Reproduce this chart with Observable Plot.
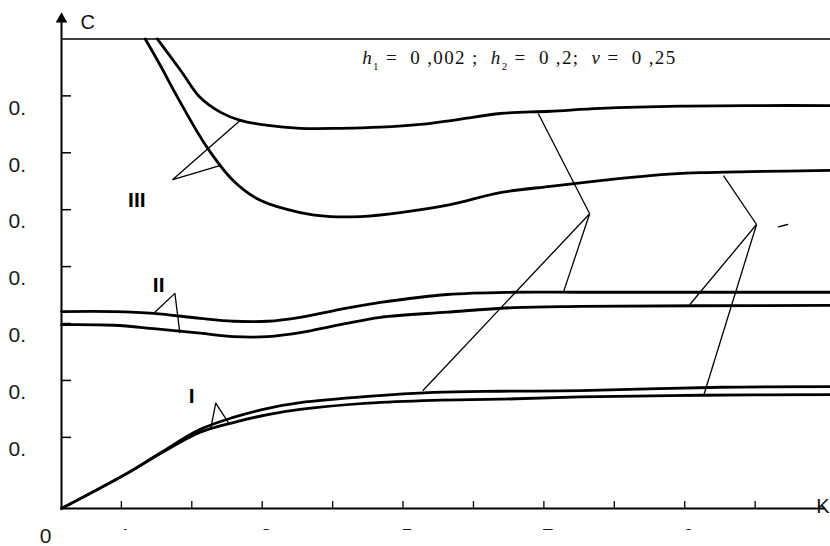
<!DOCTYPE html>
<html>
<head>
<meta charset="utf-8">
<script src="https://cdn.jsdelivr.net/npm/d3@7"></script>
<script src="https://cdn.jsdelivr.net/npm/@observablehq/plot@0.6"></script>
<style>
  html, body { margin: 0; padding: 0; background: #fff; }
</style>
</head>
<body>
<div id="chart"></div>
<script>
// Axis ticks and labels
const xTicks = [1, 2, 3, 4, 5, 6, 7, 8, 9, 10];
const xTickLabels = [1, 3, 5, 7, 9];
const yTicks = [1, 2, 3, 4, 5, 6, 7];
const yTickLabel = "0.";

// Dispersion curves C(K), pairs [K, C]
const curveIIIa = [[1.51, 8.0], [1.84, 7.45], [2.12, 6.97], [2.41, 6.71], [2.69, 6.57], [3.08, 6.48],
  [3.54, 6.43], [4.11, 6.43], [4.68, 6.45], [5.25, 6.50], [5.82, 6.59], [6.38, 6.69], [7.09, 6.73],
  [7.80, 6.78], [8.94, 6.82], [10.08, 6.83], [11.07, 6.83]];
const curveIIIb = [[1.34, 8.0], [1.56, 7.52], [1.80, 6.97], [2.22, 6.09], [2.59, 5.51], [2.98, 5.16],
  [3.54, 4.95], [3.97, 4.88], [4.40, 4.88], [4.96, 4.95], [5.67, 5.09], [6.38, 5.30], [7.09, 5.41],
  [7.80, 5.51], [8.51, 5.60], [9.22, 5.65], [9.93, 5.67], [11.07, 5.69]];
const curveIIa = [[0.15, 3.21], [0.89, 3.21], [1.46, 3.18], [2.12, 3.09], [2.59, 3.04], [3.08, 3.04],
  [3.54, 3.11], [4.11, 3.25], [4.68, 3.37], [5.63, 3.51], [6.57, 3.55], [7.52, 3.55], [11.07, 3.55]];
const curveIIb = [[0.15, 2.98], [0.89, 2.97], [1.46, 2.91], [2.12, 2.83], [2.59, 2.77], [3.08, 2.77],
  [3.54, 2.84], [4.11, 2.98], [4.68, 3.11], [5.63, 3.20], [6.57, 3.28], [7.52, 3.30], [11.07, 3.32]];
const curveIa = [[0.15, -0.25], [1.10, 0.38], [1.56, 0.73], [2.12, 1.14], [2.59, 1.35], [3.08, 1.51],
  [3.54, 1.61], [4.50, 1.72], [5.43, 1.79], [6.38, 1.81], [7.52, 1.82], [9.51, 1.88], [11.07, 1.89]];
const curveIb = [[0.15, -0.25], [1.10, 0.38], [1.56, 0.72], [2.12, 1.09], [2.59, 1.26], [3.08, 1.40],
  [3.54, 1.49], [4.50, 1.60], [5.43, 1.65], [6.38, 1.67], [7.52, 1.71], [9.22, 1.74], [11.07, 1.75]];

// Leader lines from the group labels to their curve pairs
const leaderIII = [[2.69, 6.57], [1.73, 5.53], [2.41, 5.78]];
const leaderII = [[1.46, 3.18], [1.76, 3.53], [1.83, 2.84]];
const leaderI = [[2.27, 1.16], [2.34, 1.60], [2.52, 1.26]];

// Leader fans on the right: one hub for the upper curve of each pair, one for the lower
const hubUpper = [7.65, 4.93];
const hubUpperEnds = [[6.92, 6.69], [7.28, 3.56], [5.28, 1.82]];
const hubLower = [10.02, 4.74];
const hubLowerEnds = [[9.55, 5.60], [9.07, 3.33], [9.27, 1.74]];
const strayDash = [[10.33, 4.70], [10.46, 4.74]];

const groupLabels = [
  {text: "III", k: 1.22, c: 5.16},
  {text: "II", k: 1.53, c: 3.67},
  {text: "I", k: 2.0, c: 1.73}
];

const noteText = "h1 = 0,002 ; h2 = 0,2; v = 0,25";

const x0 = 0.15, x1 = 11.07, yMin = -0.25, yMax = 8.5, cTop = 8;
const W = 830, H = 546, mL = 61, mR = 0, mT = 10, mB = 38;
const pxPerY = (H - mB - mT) / (yMax - yMin);
const pxPerX = (W - mL - mR) / (x1 - x0);

const curveStyle = {x: d => d[0], y: d => d[1], stroke: "#000", strokeWidth: 2.8, curve: "catmull-rom"};
const leaderStyle = {x: d => d[0], y: d => d[1], stroke: "#000", strokeWidth: 1.3};
const labelFont = "Liberation Sans, Arial, sans-serif";

const chart = Plot.plot({
  width: W,
  height: H,
  marginLeft: mL,
  marginRight: mR,
  marginTop: mT,
  marginBottom: mB,
  x: {domain: [x0, x1], axis: null},
  y: {domain: [yMin, yMax], axis: null},
  style: {background: "#fff", fontFamily: labelFont, overflow: "hidden"},
  marks: [
    // frame: top boundary and axes
    Plot.ruleY([cTop], {x1: x0, x2: x1, stroke: "#000", strokeWidth: 1.5}),
    Plot.ruleY([yMin], {x1: x0, x2: 11.0, stroke: "#000", strokeWidth: 2}),
    Plot.ruleX([x0], {y1: yMin, y2: 8.35, stroke: "#000", strokeWidth: 2}),
    Plot.dot([[x0, 8.35]], {x: d => d[0], y: d => d[1], symbol: "triangle", r: 4.3, fill: "#000", stroke: "none"}),
    Plot.ruleX(xTicks, {y1: yMin, y2: yMin + 7 / pxPerY, stroke: "#000", strokeWidth: 1.3}),
    Plot.ruleY(yTicks, {x1: x0, x2: x0 + 10 / pxPerX, stroke: "#000", strokeWidth: 1.5}),

    // tick labels
    Plot.text(yTicks, {x: x0, y: d => d, text: () => yTickLabel, textAnchor: "start", dx: -53, dy: 12,
      fontSize: 21, fill: "#1a1a1a"}),
    Plot.text(["0"], {x: x0, y: yMin, text: d => d, dx: -16, dy: 27.5, fontSize: 21, fill: "#1a1a1a"}),
    Plot.text(xTickLabels, {x: d => d, y: yMin, text: d => String(d), dx: 4, dy: 27.5, fontSize: 21,
      fill: "#1a1a1a"}),

    // axis names
    Plot.text(["C"], {x: 0.42, y: 8.28, text: d => d, textAnchor: "start", fontSize: 20, fill: "#111"}),
    Plot.text(["K"], {x: x1, y: yMin, text: d => d, textAnchor: "end", dx: -1, dy: -2, fontSize: 20, fill: "#111"}),

    // parameter note
    Plot.text([noteText], {x: 4.42, y: 7.66, text: d => d, textAnchor: "start",
      fontFamily: "Liberation Serif, Times New Roman, serif", fontSize: 19, fill: "#111"}),

    // curves
    Plot.line(curveIIIa, curveStyle),
    Plot.line(curveIIIb, curveStyle),
    Plot.line(curveIIa, curveStyle),
    Plot.line(curveIIb, curveStyle),
    Plot.line(curveIa, curveStyle),
    Plot.line(curveIb, curveStyle),

    // leaders
    Plot.line(leaderIII, leaderStyle),
    Plot.line(leaderII, leaderStyle),
    Plot.line(leaderI, leaderStyle),
    Plot.link(hubUpperEnds, {x1: hubUpper[0], y1: hubUpper[1], x2: d => d[0], y2: d => d[1], stroke: "#000", strokeWidth: 1.3}),
    Plot.link(hubLowerEnds, {x1: hubLower[0], y1: hubLower[1], x2: d => d[0], y2: d => d[1], stroke: "#000", strokeWidth: 1.3}),
    Plot.line(strayDash, leaderStyle),

    // group labels
    Plot.text(groupLabels, {x: "k", y: "c", text: "text", fontSize: 21, fontWeight: "bold", fill: "#000"})
  ]
});

document.getElementById("chart").appendChild(chart);

const svg = d3.select(chart);

// Odd K labels only show their top edge: gather them in a clipped group
const clipId = "klabel-clip";
svg.append("defs").append("clipPath").attr("id", clipId)
  .append("rect").attr("x", 0).attr("y", 0).attr("width", W).attr("height", H - mB + 22);
const clipped = svg.append("g").attr("clip-path", `url(#${clipId})`);
const oddLabels = new Set(xTickLabels.map(String));
svg.selectAll("text").filter(function () { return oddLabels.has(this.textContent); })
  .each(function () {
    const group = this.parentNode;
    const m = group.getCTM();
    const holder = clipped.append("g")
      .attr("transform", `matrix(${m.a},${m.b},${m.c},${m.d},${m.e},${m.f})`)
      .attr("font-family", labelFont).attr("font-size", 21)
      .attr("text-anchor", group.getAttribute("text-anchor") || "middle")
      .attr("fill", "#1a1a1a");
    holder.node().appendChild(this);
  });

// Parameter note with italic symbols and subscripts
const note = svg.selectAll("text").filter(function () { return this.textContent === noteText; });
note.text(null);
const parts = [
  ["h", "italic", null], ["1", null, "sub"], [" =  0 ,002 ;  ", null, null],
  ["h", "italic", null], ["2", null, "sub"], [" =  0 ,2;  ", null, null],
  ["\u03BD", "italic", null], [" =  0 ,25", null, null]
];
for (const [t, style, shift] of parts) {
  const ts = note.append("tspan").text(t);
  if (style) ts.attr("font-style", style);
  if (shift) ts.attr("font-size", 11).attr("baseline-shift", "sub");
}
note.attr("textLength", 313).attr("lengthAdjust", "spacing");
</script>
</body>
</html>
